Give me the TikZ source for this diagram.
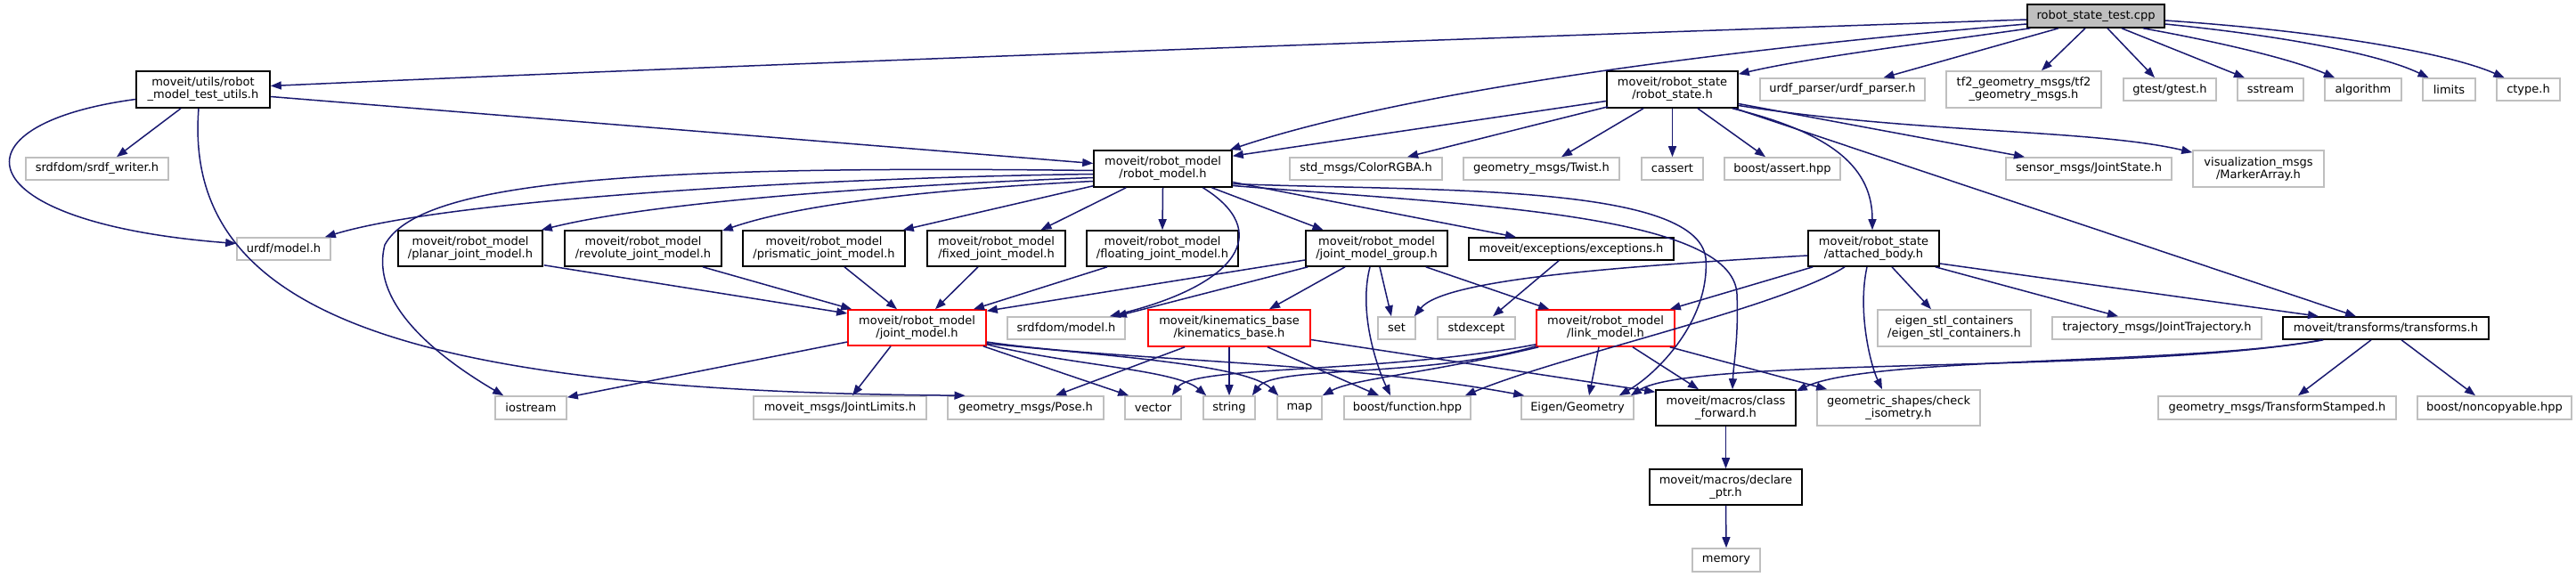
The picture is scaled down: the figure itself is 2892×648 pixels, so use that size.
\documentclass[tikz,border=0pt]{standalone}
\usepackage{fontspec}
\setmainfont{DejaVu Sans}
\usetikzlibrary{arrows.meta,calc}
\definecolor{edgeblue}{HTML}{191970}
\definecolor{extgray}{HTML}{BFBFBF}
\begin{document}
\begin{tikzpicture}[x=0.5pt,y=-0.5pt,
  box/.style={rectangle, inner sep=0pt, align=center, font=\fontsize{6.5}{7}\selectfont, line width=0.8pt},
  doc/.style={box, draw=black, fill=white},
  ext/.style={box, draw=extgray, fill=white},
  trunc/.style={box, draw=red, fill=white},
  rootbox/.style={box, draw=black, fill=extgray},
  one/.style={minimum height=12.5pt},
  two/.style={minimum height=20.5pt},
  edge/.style={draw=edgeblue, line width=0.75pt, -{Triangle[length=6pt,width=4.5pt]}}]
\fill[white] (0,0) rectangle (2892,648);
\useasboundingbox (0,0) rectangle (2892,648);

% row 0
\node[rootbox, minimum width=77pt, minimum height=13pt] (root) at (2353,18) {robot\_state\_test.cpp};
% row 1
\node[doc, two, minimum width=75pt] (tu) at (228,100.5) {moveit/utils/robot\\\_model\_test\_utils.h};
\node[doc, two, minimum width=73.5pt] (rs) at (1877.5,100.5) {moveit/robot\_state\\/robot\_state.h};
\node[ext, one, minimum width=92.5pt] (urdfp) at (2068.5,100.5) {urdf\_parser/urdf\_parser.h};
\node[ext, two, minimum width=87pt] (tftwo) at (2272,100.5) {tf2\_geometry\_msgs/tf2\\\_geometry\_msgs.h};
\node[ext, one, minimum width=52pt] (gtest) at (2436,100.5) {gtest/gtest.h};
\node[ext, one, minimum width=37pt] (sstream) at (2549,100.5) {sstream};
\node[ext, one, minimum width=43pt] (algorithm) at (2653,100.5) {algorithm};
\node[ext, one, minimum width=29.5pt] (limits) at (2749.5,100.5) {limits};
\node[ext, one, minimum width=35.5pt] (ctype) at (2838.5,100.5) {ctype.h};
% row 2
\node[ext, one, minimum width=80pt] (srdfw) at (109,189.5) {srdfdom/srdf\_writer.h};
\node[doc, two, minimum width=77.5pt] (rm) at (1305.5,189.5) {moveit/robot\_model\\/robot\_model.h};
\node[ext, one, minimum width=85.5pt] (color) at (1533.5,189.5) {std\_msgs/ColorRGBA.h};
\node[ext, one, minimum width=87.5pt] (twist) at (1730.5,189.5) {geometry\_msgs/Twist.h};
\node[ext, one, minimum width=34.5pt] (cassert) at (1877.5,189.5) {cassert};
\node[ext, one, minimum width=65pt] (bassert) at (2001,189.5) {boost/assert.hpp};
\node[ext, one, minimum width=93pt] (jstate) at (2345,189.5) {sensor\_msgs/JointState.h};
\node[ext, two, minimum width=73.5pt] (marker) at (2535.5,189.5) {visualization\_msgs\\/MarkerArray.h};
% row 3
\node[ext, one, minimum width=52.5pt] (urdfm) at (318.5,279.5) {urdf/model.h};
\node[doc, minimum height=20pt, minimum width=81pt] (planar) at (528,279) {moveit/robot\_model\\/planar\_joint\_model.h};
\node[doc, minimum height=20pt, minimum width=88pt] (revolute) at (722,279) {moveit/robot\_model\\/revolute\_joint\_model.h};
\node[doc, minimum height=20pt, minimum width=91pt] (prismatic) at (925,279) {moveit/robot\_model\\/prismatic\_joint\_model.h};
\node[doc, minimum height=20pt, minimum width=77.5pt] (fixed) at (1118.5,279) {moveit/robot\_model\\/fixed\_joint\_model.h};
\node[doc, minimum height=20pt, minimum width=85pt] (floating) at (1305,279) {moveit/robot\_model\\/floating\_joint\_model.h};
\node[doc, minimum height=20pt, minimum width=79.5pt] (jmg) at (1545.5,279) {moveit/robot\_model\\/joint\_model\_group.h};
\node[doc, one, minimum width=115pt] (exc) at (1764,279.5) {moveit/exceptions/exceptions.h};
\node[doc, minimum height=20pt, minimum width=73.5pt] (ab) at (2103.5,279) {moveit/robot\_state\\/attached\_body.h};
% row 4
\node[trunc, minimum height=20pt, minimum width=77.5pt] (jm) at (1029.5,368) {moveit/robot\_model\\/joint\_model.h};
\node[ext, one, minimum width=66pt] (srdfm) at (1197,368.5) {srdfdom/model.h};
\node[trunc, two, minimum width=91pt] (kb) at (1380,368.5) {moveit/kinematics\_base\\/kinematics\_base.h};
\node[ext, one, minimum width=21pt] (set) at (1568,368.5) {set};
\node[ext, one, minimum width=43.5pt] (stdexc) at (1657.5,368.5) {stdexcept};
\node[trunc, two, minimum width=77.5pt] (lm) at (1802.5,368.5) {moveit/robot\_model\\/link\_model.h};
\node[ext, two, minimum width=86pt] (eigstl) at (2194,368.5) {eigen\_stl\_containers\\/eigen\_stl\_containers.h};
\node[ext, one, minimum width=117.5pt] (traj) at (2421.5,368.5) {trajectory\_msgs/JointTrajectory.h};
\node[doc, one, minimum width=115.5pt] (tf) at (2678.5,368.5) {moveit/transforms/transforms.h};
% row 5
\node[ext, minimum height=13pt, minimum width=40pt] (ios) at (596,458) {iostream};
\node[ext, minimum height=13pt, minimum width=97pt] (jl) at (943,458) {moveit\_msgs/JointLimits.h};
\node[ext, minimum height=13pt, minimum width=87.5pt] (pose) at (1151.5,458) {geometry\_msgs/Pose.h};
\node[ext, minimum height=13pt, minimum width=31.5pt] (vector) at (1294.5,458) {vector};
\node[ext, minimum height=13pt, minimum width=29pt] (string) at (1380,458) {string};
\node[ext, minimum height=13pt, minimum width=25pt] (map) at (1459,458) {map};
\node[ext, minimum height=13pt, minimum width=71pt] (bfunc) at (1580,458) {boost/function.hpp};
\node[ext, minimum height=13pt, minimum width=63pt] (eigen) at (1771,458) {Eigen/Geometry};
\node[doc, minimum height=20pt, minimum width=78.5pt] (cf) at (1937.5,458) {moveit/macros/class\\\_forward.h};
\node[ext, minimum height=20pt, minimum width=91.5pt] (iso) at (2131.5,458) {geometric\_shapes/check\\\_isometry.h};
\node[ext, minimum height=13pt, minimum width=133.5pt] (tstamp) at (2556.5,458) {geometry\_msgs/TransformStamped.h};
\node[ext, minimum height=13pt, minimum width=86.5pt] (noncopy) at (2800.5,458) {boost/noncopyable.hpp};
% rows 6-7
\node[doc, minimum height=20pt, minimum width=85.5pt] (dp) at (1937.5,547) {moveit/macros/declare\\\_ptr.h};
\node[ext, minimum height=13pt, minimum width=38pt] (mem) at (1938,629) {memory};

% edges from root
\draw[edge] ($(root.west)+(0,4)$) .. controls (1600,45) and (900,70) .. ($(tu.east)+(0,-4)$);
\draw[edge] ($(root.west)+(0,9)$) .. controls (2000,50) and (1600,95) .. ($(rm.north east)+(-3,0)$);
\draw[edge] ($(root.south west)+(4,0)$) .. controls (2150,50) and (2030,65) .. ($(rs.north east)+(0,4)$);
\draw[edge] ($(root.south)+(-42,0)$) -- ($(urdfp.north)+(46,0)$);
\draw[edge] ($(root.south)+(-12,0)$) -- ($(tftwo.north)+(20,0)$);
\draw[edge] ($(root.south)+(13,0)$) -- ($(gtest.north)+(-17,0)$);
\draw[edge] ($(root.south)+(29,0)$) -- ($(sstream.north)+(-29,0)$);
\draw[edge] ($(root.south)+(53,0)$) .. controls (2480,45) and (2570,65) .. ($(algorithm.north)+(-32,0)$);
\draw[edge] ($(root.east)+(0,9)$) .. controls (2560,40) and (2670,60) .. ($(limits.north)+(-23,0)$);
\draw[edge] ($(root.east)+(0,5)$) .. controls (2610,35) and (2750,60) .. ($(ctype.north)+(-27,0)$);

% edges from test utils
\draw[edge] ($(tu.south)+(-25,0)$) -- ($(srdfw.north)+(22,0)$);
\draw[edge] ($(tu.west)+(0,11)$) .. controls (-60,140) and (-40,250) .. ($(urdfm.west)+(0,-6)$);
\draw[edge] ($(tu.south)+(-5,0)$) .. controls (205,350) and (450,440) .. ($(pose.north)+(-68,0)$);
\draw[edge] ($(tu.east)+(0,8)$) -- ($(rm.west)+(0,-6)$);

% edges from robot_model.h
\draw[edge] ($(rm.west)+(0,6)$) .. controls (900,200) and (500,225) .. ($(urdfm.north east)+(-7,0)$);
\draw[edge] ($(rm.west)+(0,2)$) .. controls (700,185) and (470,205) .. (432,275) .. controls (415,340) and (490,400) .. ($(ios.north west)+(10,0)$);
\draw[edge] ($(rm.west)+(0,10)$) .. controls (950,210) and (720,230) .. ($(planar.north east)+(-2,0)$);
\draw[edge] ($(rm.west)+(0,14)$) .. controls (1000,215) and (880,235) .. ($(revolute.north east)+(0,1)$);
\draw[edge] ($(rm.south west)+(0,-2)$) -- ($(prismatic.north east)+(-3,0)$);
\draw[edge] ($(rm.south west)+(37,0)$) -- ($(fixed.north)+(50,0)$);
\draw[edge] (rm.south) -- (floating.north);
\draw[edge] ($(rm.south)+(55,0)$) -- ($(jmg.north)+(-60,0)$);
\draw[edge] ($(rm.east)+(0,15)$) -- ($(exc.north)+(-62,0)$);
\draw[edge] ($(rm.south)+(45,0)$) .. controls (1430,260) and (1390,320) .. ($(srdfm.north east)+(-18,0)$);
\draw[edge] ($(rm.east)+(0,17)$) .. controls (1600,215) and (1905,205) .. (1915,290) .. controls (1920,360) and (1860,420) .. ($(eigen.north east)+(-17,0)$);
\draw[edge] ($(rm.east)+(0,19)$) .. controls (1650,230) and (1945,240) .. (1950,330) .. controls (1952,380) and (1946,410) .. ($(cf.north)+(7.5,0)$);

% edges from robot_state.h
\draw[edge] ($(rs.west)+(0,13)$) -- ($(rm.north east)+(0,7)$);
\draw[edge] ($(rs.south west)+(2,-2)$) -- ($(color.north)+(46.5,0)$);
\draw[edge] ($(rs.south)+(-32.5,0)$) -- ($(twist.north)+(22.5,0)$);
\draw[edge] (rs.south) -- (cassert.north);
\draw[edge] ($(rs.south)+(28.5,0)$) -- ($(bassert.north)+(-19,0)$);
\draw[edge] ($(rs.east)+(0,16)$) -- ($(jstate.north)+(-72,0)$);
\draw[edge] ($(rs.east)+(0,18)$) .. controls (2150,150) and (2350,145) .. ($(marker.north west)+(0,3)$);
\draw[edge] ($(rs.south east)+(-7,0)$) .. controls (2060,150) and (2102,190) .. ($(ab.north)+(-1.5,0)$);
\draw[edge] ($(rs.south east)+(-4,0)$) -- ($(tf.north)+(-33.5,0)$);

% joint models -> joint_model.h
\draw[edge] ($(planar.south east)+(1,-2)$) -- ($(jm.west)+(0,-16)$);
\draw[edge] ($(revolute.south)+(67,0)$) -- ($(jm.north west)+(5,0)$);
\draw[edge] ($(prismatic.south)+(23,0)$) -- ($(jm.north)+(-22.5,0)$);
\draw[edge] ($(fixed.south)+(-20.5,0)$) -- ($(jm.north)+(20.5,0)$);
\draw[edge] ($(floating.south)+(-62,0)$) -- ($(jm.north)+(63.5,0)$);
\draw[edge] ($(jmg.west)+(0,13)$) -- ($(jm.north east)+(0,2)$);

% joint_model_group.h
\draw[edge] ($(jmg.south west)+(3,0)$) -- ($(srdfm.north east)+(-11,0)$);
\draw[edge] ($(jmg.south)+(-35.5,0)$) -- ($(kb.north)+(45,0)$);
\draw[edge] ($(jmg.south)+(-7.5,0)$) .. controls (1525,350) and (1545,410) .. ($(bfunc.north)+(-19,0)$);
\draw[edge] ($(jmg.south)+(3.5,0)$) -- ($(set.north)+(-6,0)$);
\draw[edge] ($(jmg.south east)+(-25,0)$) -- ($(lm.north west)+(15,0)$);

% exceptions
\draw[edge] ($(exc.south)+(-14,0)$) -- ($(stdexc.north)+(18.5,0)$);

% attached_body.h
\draw[edge] ($(ab.west)+(0,8)$) .. controls (1800,300) and (1620,315) .. ($(set.north east)+(-2,0)$);
\draw[edge] ($(ab.south west)+(6,0)$) -- ($(lm.north east)+(-6,0)$);
\draw[edge] ($(ab.south)+(-32.5,0)$) .. controls (2000,345) and (1750,400) .. ($(bfunc.north east)+(-7,0)$);
\draw[edge] ($(ab.south)+(-7.5,0)$) .. controls (2085,350) and (2100,410) .. ($(iso.north)+(-18.5,0)$);
\draw[edge] ($(ab.south)+(20.5,0)$) -- ($(eigstl.north)+(-26,0)$);
\draw[edge] ($(ab.south east)+(-5,0)$) -- ($(traj.north)+(-43.5,0)$);
\draw[edge] ($(ab.east)+(0,17)$) -- ($(tf.north)+(-75.5,0)$);

% link_model.h
\draw[edge] ($(lm.south west)+(0,-3)$) .. controls (1550,420) and (1340,410) .. ($(vector.north east)+(-11,0)$);
\draw[edge] ($(lm.south west)+(0,-1)$) .. controls (1600,425) and (1430,410) .. ($(string.north east)+(-4,0)$);
\draw[edge] ($(lm.south west)+(3,0)$) .. controls (1600,420) and (1520,425) .. (map.north east);
\draw[edge] ($(lm.south)+(-7.5,0)$) -- ($(eigen.north)+(13,0)$);
\draw[edge] ($(lm.south)+(30.5,0)$) -- ($(cf.north)+(-30.5,0)$);
\draw[edge] ($(lm.south east)+(-6,0)$) -- ($(iso.north west)+(12,0)$);

% kinematics_base.h
\draw[edge] ($(kb.south)+(-50,0)$) -- ($(pose.north)+(33.5,0)$);
\draw[edge] (kb.south) -- (string.north);
\draw[edge] ($(kb.south)+(43,0)$) -- ($(bfunc.north)+(-32,0)$);
\draw[edge] ($(kb.east)+(0,13)$) -- ($(cf.north west)+(0,3)$);

% joint_model.h
\draw[edge] ($(jm.west)+(0,16)$) -- ($(ios.north east)+(0,2)$);
\draw[edge] ($(jm.south)+(-29.5,0)$) -- ($(jl.north)+(14,0)$);
\draw[edge] ($(jm.south east)+(-4,0)$) -- ($(vector.north west)+(5,0)$);
\draw[edge] ($(jm.south east)+(0,-2)$) .. controls (1200,410) and (1320,415) .. ($(string.north west)+(4,0)$);
\draw[edge] ($(jm.south east)+(0,-3)$) .. controls (1250,400) and (1400,410) .. ($(map.north west)+(2,0)$);
\draw[edge] ($(jm.east)+(0,16)$) .. controls (1250,405) and (1500,405) .. ($(eigen.north west)+(4,0)$);

% transforms.h
\draw[edge] ($(tf.south)+(-16.5,0)$) -- ($(tstamp.north)+(23.5,0)$);
\draw[edge] ($(tf.south)+(17.5,0)$) -- ($(noncopy.north)+(-21.5,0)$);
\draw[edge] ($(tf.south west)+(46,0)$) .. controls (2450,410) and (2100,400) .. ($(cf.north east)+(0,2)$);
\draw[edge] ($(tf.south west)+(44,0)$) .. controls (2400,420) and (1900,400) .. ($(eigen.north east)+(-4,0)$);

% macros
\draw[edge] (cf.south) -- (dp.north);
\draw[edge] (dp.south) -- (mem.north);
\end{tikzpicture}
\end{document}
